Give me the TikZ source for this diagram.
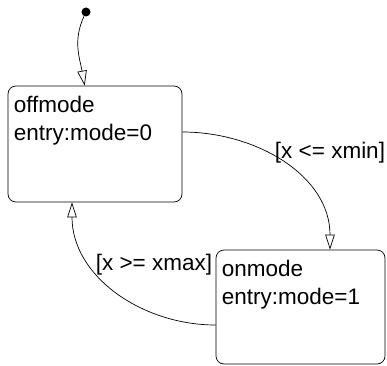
\documentclass[tikz,border=0pt]{standalone}
\usepackage{fontspec}
\setmainfont{Liberation Sans}
\usetikzlibrary{arrows.meta}

\tikzset{
  statebox/.style={draw,rounded corners=8pt,line width=0.7pt},
  statetext/.style={anchor=north west,align=left,inner xsep=6pt,inner ysep=10.5pt},
  trans/.style={-{Triangle[open,length=15pt,width=9.5pt,fill=white]},line width=0.7pt},
  guard/.style={inner sep=0pt}
}

\begin{document}
\begin{tikzpicture}[x=1pt,y=1pt,font=\fontsize{22.5pt}{28pt}\selectfont]
\useasboundingbox (0,0) rectangle (387,365);
\node[statebox,minimum width=174pt,minimum height=116pt,
  label={[statetext]north west:{offmode\\entry:mode=0}}] (offmode) at (95,221) {};
\node[statebox,minimum width=169pt,minimum height=114pt,
  label={[statetext]north west:{onmode\\entry:mode=1}}] (onmode) at (300.5,58) {};
\node[circle,fill,inner sep=0pt,minimum size=9pt] (init) at (86,353) {};

\draw[trans] (init) to[out=245,in=100] ([xshift=77pt]offmode.north west);
\draw[trans] ([yshift=12pt]offmode.east) to[out=0,in=90] ([xshift=29.5pt]onmode.north);
\draw[trans] ([yshift=-18pt]onmode.west) to[out=180,in=-90] ([xshift=-23pt]offmode.south);

\node[guard] (lowguard) at (330,212) {[x <= xmin]};
\node[guard] (highguard) at (154,100) {[x >= xmax]};
\end{tikzpicture}
\end{document}
